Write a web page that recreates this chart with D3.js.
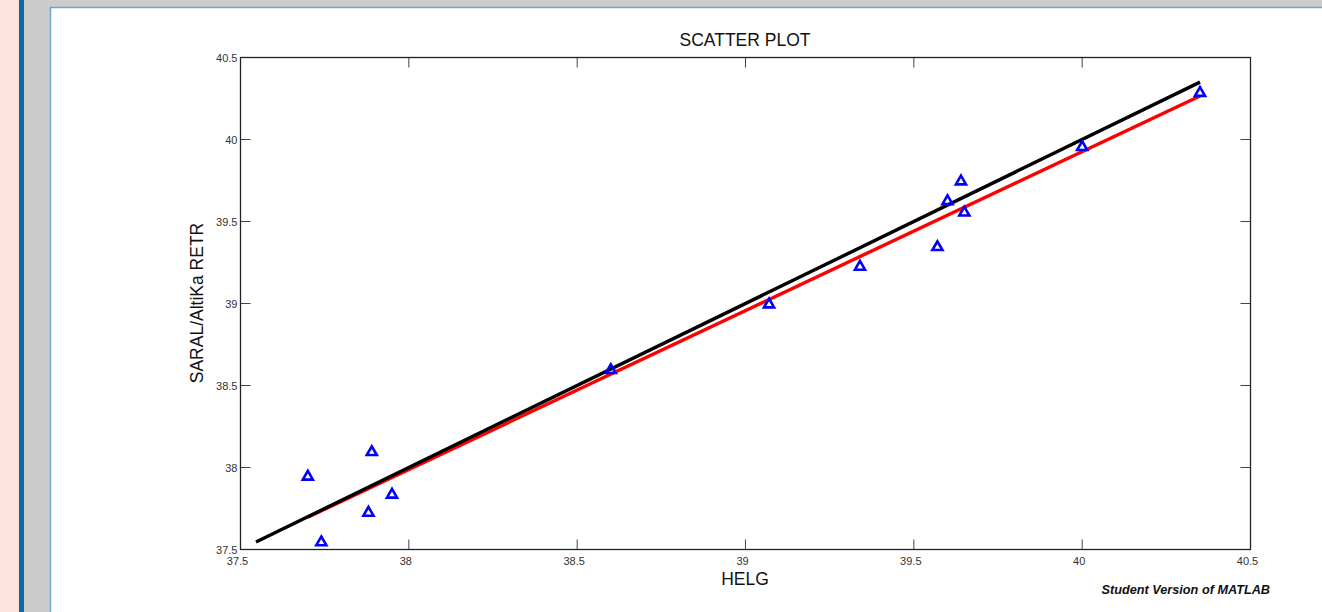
<!DOCTYPE html>
<html>
<head>
<meta charset="utf-8">
<script src="https://cdn.jsdelivr.net/npm/d3@7"></script>
<style>
  html, body { margin: 0; padding: 0; background: #ffffff; }
  svg { display: block; }
</style>
</head>
<body>
<svg id="chart" width="1322" height="612"></svg>
<script>
// ---- data ----
const helg = [37.70, 37.74, 37.88, 37.89, 37.95, 38.60, 39.07, 39.34, 39.57, 39.60, 39.64, 39.65, 40.00, 40.35];
const saral = [37.95, 37.55, 37.73, 38.10, 37.84, 38.60, 39.00, 39.23, 39.35, 39.63, 39.75, 39.56, 39.96, 40.29];
const refLineX = [37.546, 40.35];
const refLineY = [37.546, 40.35];
const fitLineX = [37.70, 40.35];
const fitLineY = [37.697, 40.265];
const xTicks = [37.5, 38, 38.5, 39, 39.5, 40, 40.5];
const yTicks = [37.5, 38, 38.5, 39, 39.5, 40, 40.5];
const titleText = "SCATTER PLOT";
const xLabel = "HELG";
const yLabel = "SARAL/AltiKa RETR";
const footer = "Student Version of MATLAB";

const svg = d3.select("#chart");

// ---- surrounding frame ----
svg.append("rect").attr("x", 0).attr("y", 0).attr("width", 1322).attr("height", 612).attr("fill", "#ffffff");
svg.append("rect").attr("x", 0).attr("y", 0).attr("width", 1322).attr("height", 8).attr("fill", "#cccccc");
svg.append("rect").attr("x", 0).attr("y", 0).attr("width", 19).attr("height", 612).attr("fill", "#fde3dc");
svg.append("rect").attr("x", 19).attr("y", 0).attr("width", 5).attr("height", 612).attr("fill", "#1068aa");
svg.append("rect").attr("x", 24).attr("y", 0).attr("width", 26).attr("height", 612).attr("fill", "#cccccc");
svg.append("line").attr("x1", 50.5).attr("x2", 50.5).attr("y1", 7.5).attr("y2", 612).attr("stroke", "#6ea6d2").attr("stroke-width", 1.5);
svg.append("line").attr("x1", 50).attr("x2", 1322).attr("y1", 7.5).attr("y2", 7.5).attr("stroke", "#6ea6d2").attr("stroke-width", 1.5);

// ---- plot ----
const L = 240.5, R = 1250.5, T = 57.5, B = 549.5;
const x = d3.scaleLinear().domain([37.5, 40.5]).range([L, R]);
const y = d3.scaleLinear().domain([37.5, 40.5]).range([B, T]);

const g = svg.append("g");
const tickLen = 10;
const tickColor = "#444";

// ticks (inward, all four sides)
xTicks.forEach(t => {
  if (t === 37.5 || t === 40.5) return;
  g.append("line").attr("x1", x(t)).attr("x2", x(t)).attr("y1", B).attr("y2", B - tickLen).attr("stroke", tickColor).attr("stroke-width", 1);
  g.append("line").attr("x1", x(t)).attr("x2", x(t)).attr("y1", T).attr("y2", T + tickLen).attr("stroke", tickColor).attr("stroke-width", 1);
});
yTicks.forEach(t => {
  if (t === 37.5 || t === 40.5) return;
  g.append("line").attr("x1", L).attr("x2", L + tickLen).attr("y1", y(t)).attr("y2", y(t)).attr("stroke", tickColor).attr("stroke-width", 1);
  g.append("line").attr("x1", R).attr("x2", R - tickLen).attr("y1", y(t)).attr("y2", y(t)).attr("stroke", tickColor).attr("stroke-width", 1);
});

// box
g.append("rect").attr("x", L).attr("y", T).attr("width", R - L).attr("height", B - T)
  .attr("fill", "none").attr("stroke", "#222").attr("stroke-width", 1.3);

// tick labels
const fmt = d => String(d);
g.selectAll(".xt").data(xTicks).enter().append("text")
  .attr("x", d => x(d) - 3).attr("y", B + 15)
  .attr("text-anchor", "middle").attr("font-family", "Liberation Sans, Arial, sans-serif")
  .attr("font-size", 11).attr("fill", "#333").text(fmt);
g.selectAll(".yt").data(yTicks).enter().append("text")
  .attr("x", L - 3).attr("y", d => y(d) + 4)
  .attr("text-anchor", "end").attr("font-family", "Liberation Sans, Arial, sans-serif")
  .attr("font-size", 11).attr("fill", "#333").text(fmt);

// lines (red fit first, black 1:1 line on top)
const line = d3.line().x(d => x(d[0])).y(d => y(d[1]));
g.append("path").datum(fitLineX.map((v, i) => [v, fitLineY[i]]))
  .attr("d", line).attr("stroke", "#ff0000").attr("stroke-width", 3.4).attr("fill", "none");
g.append("path").datum(refLineX.map((v, i) => [v, refLineY[i]]))
  .attr("d", line).attr("stroke", "#000").attr("stroke-width", 3.4).attr("fill", "none");

// markers
const tri = d3.symbol().type(d3.symbolTriangle).size(44);
g.selectAll(".pt").data(helg.map((v, i) => [v, saral[i]])).enter().append("path")
  .attr("d", tri)
  .attr("transform", d => `translate(${x(d[0])},${y(d[1]) + 1})`)
  .attr("fill", "none").attr("stroke", "#0000ff").attr("stroke-width", 2.6);

// titles
svg.append("text").attr("x", 745).attr("y", 46).attr("text-anchor", "middle")
  .attr("font-family", "Liberation Sans, Arial, sans-serif").attr("font-size", 17.5).attr("fill", "#111").text(titleText);
svg.append("text").attr("x", 745).attr("y", 585).attr("text-anchor", "middle")
  .attr("font-family", "Liberation Sans, Arial, sans-serif").attr("font-size", 17.5).attr("fill", "#111").text(xLabel);
svg.append("text").attr("transform", "translate(203,303) rotate(-90)").attr("text-anchor", "middle")
  .attr("font-family", "Liberation Sans, Arial, sans-serif").attr("font-size", 17.5).attr("fill", "#111").text(yLabel);
svg.append("text").attr("x", 1270).attr("y", 594).attr("text-anchor", "end")
  .attr("font-family", "Liberation Sans, Arial, sans-serif").attr("font-size", 12.7)
  .attr("font-weight", "bold").attr("font-style", "italic").attr("fill", "#111").text(footer);
</script>
</body>
</html>
